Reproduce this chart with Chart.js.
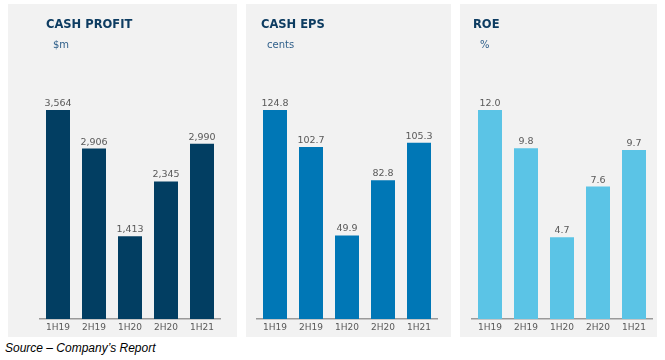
<!DOCTYPE html>
<html>
<head>
<meta charset="utf-8">
<script src="https://cdn.jsdelivr.net/npm/chart.js@4"></script>
<style>
    body { margin: 0; width: 665px; height: 360px; background: #ffffff; position: relative; overflow: hidden; font-family: "DejaVu Sans", sans-serif; }
    .panel { position: absolute; top: 4px; height: 333px; background: #f2f2f2; }
    .panel canvas { position: absolute; left: 0; top: 0; }
    .title { position: absolute; top: 13px; font-weight: bold; font-size: 11.5px; color: #0d3c61; white-space: nowrap; }
    .unit { position: absolute; top: 35px; font-size: 10px; color: #2f5f8a; white-space: nowrap; }
    #source { position: absolute; left: 5px; top: 341px; font-family: "Liberation Sans", sans-serif; font-style: italic; font-size: 12px; color: #000; white-space: nowrap; }
</style>
</head>
<body>

<div class="panel" id="panel-profit" style="left:8px; width:229px;">
    <canvas id="profit-chart" width="229" height="333"></canvas>
    <div class="title" style="left:38px;">CASH PROFIT</div>
    <div class="unit" style="left:45px;">$m</div>
</div>

<div class="panel" id="panel-eps" style="left:246px; width:205px;">
    <canvas id="eps-chart" width="205" height="333"></canvas>
    <div class="title" style="left:15px;">CASH EPS</div>
    <div class="unit" style="left:21px;">cents</div>
</div>

<div class="panel" id="panel-roe" style="left:460px; width:197px;">
    <canvas id="roe-chart" width="197" height="333"></canvas>
    <div class="title" style="left:13px;">ROE</div>
    <div class="unit" style="left:20px;">%</div>
</div>

<div id="source">Source – Company’s Report</div>

<script>
const periods = ["1H19", "2H19", "1H20", "2H20", "1H21"]
const cashProfit = [3564, 2906, 1413, 2345, 2990]
const cashEps = [124.8, 102.7, 49.9, 82.8, 105.3]
const roe = [12.0, 9.8, 4.7, 7.6, 9.7]

// Draws the value above each bar using the bar element positions
const valueLabels = {
    id: "valueLabels",
    afterDatasetsDraw(chart, args, opts) {
        const ctx = chart.ctx
        const meta = chart.getDatasetMeta(0)
        ctx.save()
        ctx.font = "9.5px 'DejaVu Sans'"
        ctx.fillStyle = "#595959"
        ctx.textAlign = "center"
        ctx.textBaseline = "alphabetic"
        meta.data.forEach((bar, i) => {
            ctx.fillText(opts.format(chart.data.datasets[0].data[i]), bar.x, bar.y - 4)
        })
        ctx.restore()
    }
}

const createBarChart = (canvasId, values, colour, yMax, padLeft, padRight, format) => {
    const ctx = document.getElementById(canvasId)

    new Chart(ctx, {
        type: "bar",
        data: {
            labels: periods,
            datasets: [{
                data: values,
                backgroundColor: colour,
                categoryPercentage: 1,
                barPercentage: 24 / 36
            }]
        },
        options: {
            responsive: false,
            animation: false,
            layout: {
                padding: { left: padLeft, right: padRight, top: 60, bottom: 0 }
            },
            plugins: {
                legend: { display: false },
                tooltip: { enabled: false },
                valueLabels: { format: format }
            },
            scales: {
                x: {
                    grid: { display: false, drawTicks: false },
                    border: { display: true, color: "#9a9a9a", width: 1.5 },
                    ticks: {
                        color: "#595959",
                        padding: 3,
                        font: { family: "DejaVu Sans", size: 9 }
                    },
                    afterFit: (axis) => { axis.height = 18 }
                },
                y: {
                    display: false,
                    min: 0,
                    max: yMax
                }
            }
        },
        plugins: [valueLabels]
    })
}

createBarChart("profit-chart", cashProfit, "#023e62", 4348, 32, 17, (v) => v.toLocaleString("en-US"))
createBarChart("eps-chart", cashEps, "#0077b6", 152.3, 11, 14, (v) => v.toFixed(1))
createBarChart("roe-chart", roe, "#5bc4e6", 14.64, 12, 5, (v) => v.toFixed(1))
</script>
</body>
</html>
